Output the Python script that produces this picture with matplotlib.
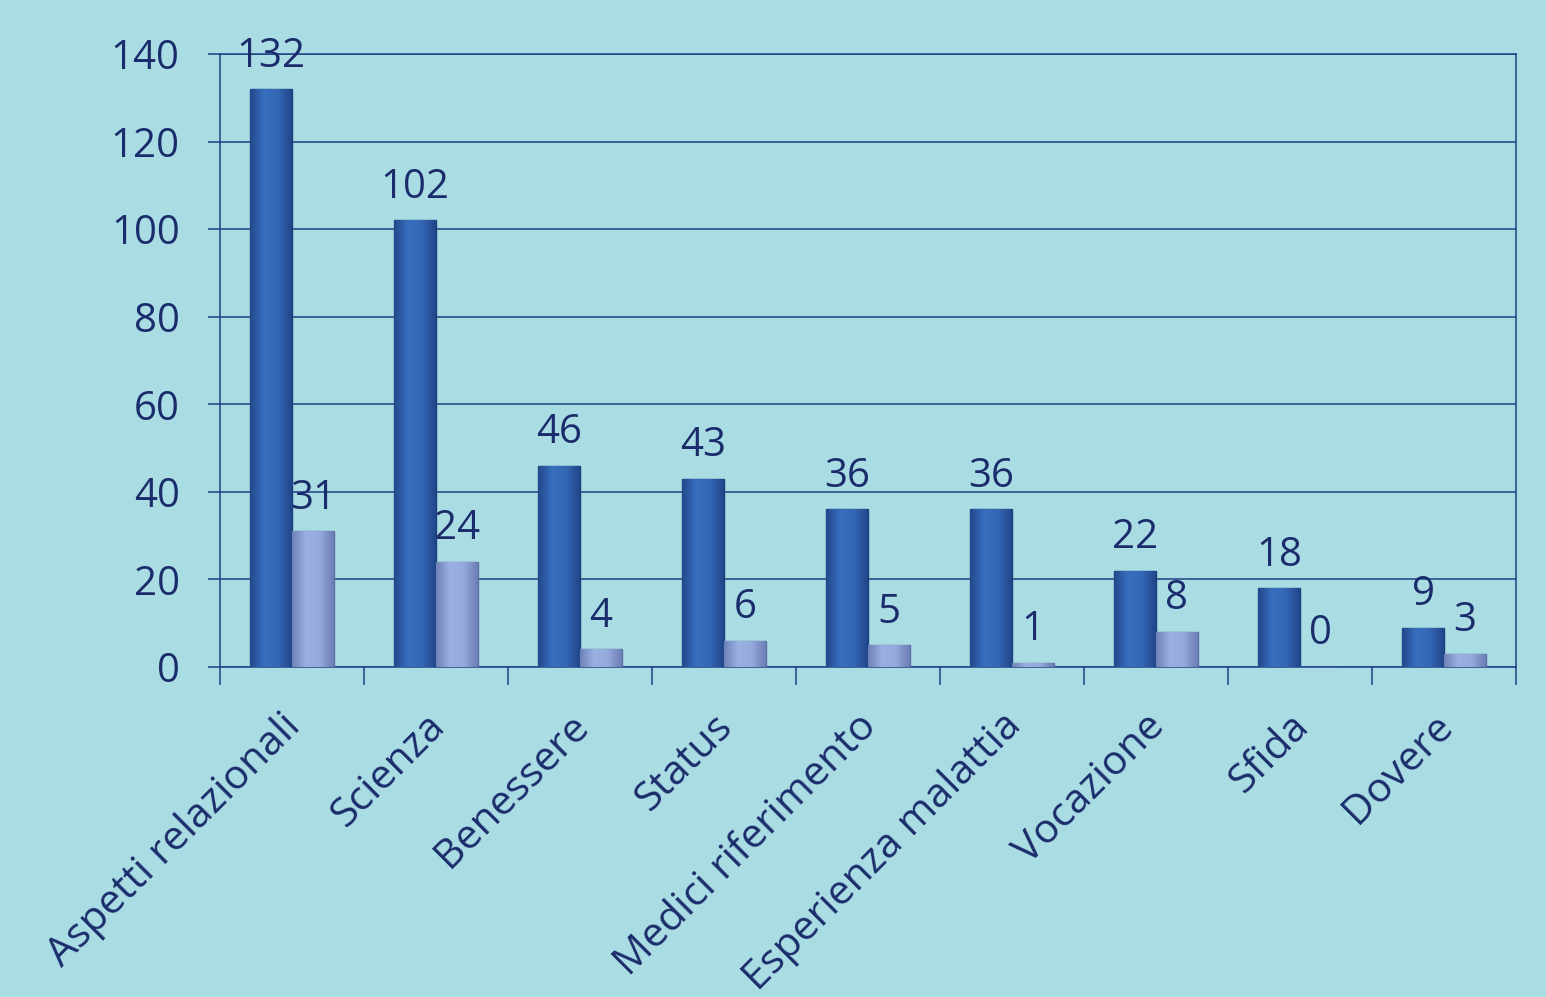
import numpy as np
import matplotlib
matplotlib.use('Agg')
import matplotlib.pyplot as plt
from matplotlib.colors import LinearSegmentedColormap

# Data
categorie = ['Aspetti relazionali', 'Scienza', 'Benessere', 'Status',
             'Medici riferimento', 'Esperienza malattia', 'Vocazione',
             'Sfida', 'Dovere']
serie_1 = [132, 102, 46, 43, 36, 36, 22, 18, 9]
serie_2 = [31, 24, 4, 6, 5, 1, 8, 0, 3]
y_ticks = [0, 20, 40, 60, 80, 100, 120, 140]

# Style
bg = '#aadde3'
navy = '#1b2c6c'
line_col = '#1f3f86'
font = ['Open Sans', 'DejaVu Sans']
size = 29

plt.rcParams['font.family'] = font

fig = plt.figure(figsize=(15.46, 9.97), dpi=100)
fig.patch.set_facecolor(bg)
ax = fig.add_axes([0.1423, 0.331, 0.8383, 0.6148])
ax.set_facecolor('none')

x = np.arange(len(categorie))
w = 0.29

cm_dark = LinearSegmentedColormap.from_list('dk', ['#22498c', '#3770bf', '#3468b5', '#21468a'])
cm_light = LinearSegmentedColormap.from_list('lt', ['#6f82b8', '#9bb0e2', '#94a8dc', '#6c7fb4'])

b1 = ax.bar(x - w / 2, serie_1, w, color='#3166b2', edgecolor='#1d3f7a', linewidth=1.0, zorder=3)
b2 = ax.bar(x + w / 2, serie_2, w, color='#93a8dc', edgecolor='#5d6fa5', linewidth=1.0, zorder=3)

# horizontal shading inside each bar
grad = np.linspace(0, 1, 64)[None, :]
for bars, cmap in ((b1, cm_dark), (b2, cm_light)):
    for r in bars:
        if r.get_height() <= 0:
            continue
        im = ax.imshow(grad, extent=[r.get_x(), r.get_x() + r.get_width(), 0, r.get_height()],
                       aspect='auto', cmap=cmap, zorder=3.1, interpolation='bilinear')
        im.set_clip_path(r)

# data labels
for xi, v in zip(x, serie_1):
    ax.annotate(str(v), (xi - w / 2, v), xytext=(0, 9), textcoords='offset points',
                ha='center', va='bottom', fontsize=size, color=navy, zorder=4)
for xi, v in zip(x, serie_2):
    ax.annotate(str(v), (xi + w / 2, v), xytext=(0, 9), textcoords='offset points',
                ha='center', va='bottom', fontsize=size, color=navy, zorder=2)

ax.set_xlim(-0.5, len(categorie) - 0.5)
ax.set_ylim(0, 140)
ax.set_yticks(y_ticks)
ax.yaxis.grid(True, color=line_col, linewidth=1.1, zorder=1)
ax.set_axisbelow(True)

for s in ax.spines.values():
    s.set_color(line_col)
    s.set_linewidth(1.1)

# category labels, rotated
ax.set_xticks(x)
ax.set_xticklabels([])
for xi, lab in zip(x, categorie):
    ax.annotate(lab, (xi, 0), xycoords=('data', 'axes fraction'),
                xytext=(-8, -28), textcoords='offset points',
                rotation=45, rotation_mode='anchor', ha='right', va='top',
                fontsize=29.5, color=navy, annotation_clip=False)
ax.set_xticks(np.arange(-0.5, len(categorie)), minor=True)
ax.tick_params(axis='x', which='major', length=0)
ax.tick_params(axis='x', which='minor', length=13, width=1.1, color=line_col, direction='out')
ax.tick_params(axis='y', length=9, width=1.1, color=line_col, pad=20,
               labelsize=size, labelcolor=navy)

plt.savefig('out.png', dpi=100, facecolor=fig.get_facecolor())
plt.close()
